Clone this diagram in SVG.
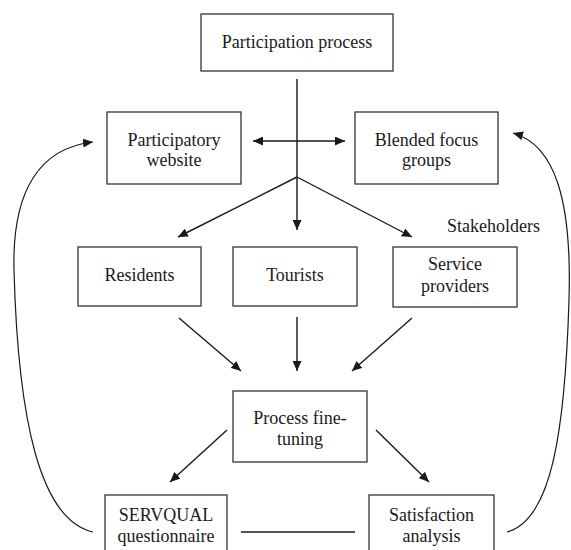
<svg xmlns="http://www.w3.org/2000/svg" width="571" height="550" viewBox="0 0 571 550">
  <defs>
    <marker id="ah" viewBox="0 0 10 9" refX="10" refY="4.5" markerWidth="10" markerHeight="9" markerUnits="userSpaceOnUse" orient="auto-start-reverse">
      <path d="M0,0 L10,4.5 L0,9 z" fill="#1a1a1a"/>
    </marker>
  </defs>
  <style>
    .box { fill: #ffffff; stroke: #333333; stroke-width: 1.3; }
    text { font-family: "Liberation Serif", "Times New Roman", Tinos, "DejaVu Serif", serif; font-size: 18px; fill: #1a1a1a; }
    .lbl { text-anchor: middle; }
    .ln { fill: none; stroke: #1a1a1a; stroke-width: 1.4; }
    .arr { fill: none; stroke: #1a1a1a; stroke-width: 1.4; marker-end: url(#ah); }
    .curve { fill: none; stroke: #1a1a1a; stroke-width: 1.2; }
  </style>
  <rect width="571" height="550" fill="#ffffff"/>

  <g id="connectors">
    <line class="arr" x1="297" y1="79" x2="297" y2="230"/>
    <line class="arr" x1="253" y1="141" x2="345" y2="141" marker-start="url(#ah)"/>
    <line class="arr" x1="297" y1="177" x2="178" y2="237"/>
    <line class="arr" x1="297" y1="177" x2="412" y2="237"/>
    <line class="arr" x1="179" y1="318" x2="241" y2="371"/>
    <line class="arr" x1="297" y1="317" x2="297" y2="371"/>
    <line class="arr" x1="412" y1="318" x2="352" y2="371"/>
    <line class="arr" x1="227" y1="430" x2="170" y2="482"/>
    <line class="arr" x1="376" y1="430" x2="429" y2="482"/>
    <line class="ln" x1="241" y1="532" x2="355" y2="532"/>
    <path class="curve" d="M93,532 C40,520 18,420 14,270 C12,190 40,148 93,142" marker-end="url(#ah)"/>
    <path class="curve" d="M507,532 C552,520 565,430 569,300 C572,200 555,145 513,133" marker-end="url(#ah)"/>
  </g>

  <g id="participation-process">
    <rect class="box" x="201" y="14" width="192" height="57"/>
    <text class="lbl" x="297" y="48" font-family="Liberation Serif, serif">Participation process</text>
  </g>
  <g id="participatory-website">
    <rect class="box" x="107" y="112" width="134" height="72"/>
    <text class="lbl" x="174" y="146" font-family="Liberation Serif, serif">Participatory</text>
    <text class="lbl" x="174" y="166" font-family="Liberation Serif, serif">website</text>
  </g>
  <g id="blended-focus-groups">
    <rect class="box" x="355" y="112" width="143" height="72"/>
    <text class="lbl" x="426.5" y="146" font-family="Liberation Serif, serif">Blended focus</text>
    <text class="lbl" x="426.5" y="166" font-family="Liberation Serif, serif">groups</text>
  </g>
  <g id="stakeholders-label">
    <text x="447" y="232" font-family="Liberation Serif, serif">Stakeholders</text>
  </g>
  <g id="residents">
    <rect class="box" x="78" y="247" width="123" height="59"/>
    <text class="lbl" x="139.5" y="281" font-family="Liberation Serif, serif">Residents</text>
  </g>
  <g id="tourists">
    <rect class="box" x="233" y="247" width="124" height="59"/>
    <text class="lbl" x="295" y="281" font-family="Liberation Serif, serif">Tourists</text>
  </g>
  <g id="service-providers">
    <rect class="box" x="393" y="247" width="124" height="60"/>
    <text class="lbl" x="455" y="270" font-family="Liberation Serif, serif">Service</text>
    <text class="lbl" x="455" y="292" font-family="Liberation Serif, serif">providers</text>
  </g>
  <g id="process-fine-tuning">
    <rect class="box" x="233" y="391" width="134" height="71"/>
    <text class="lbl" x="300" y="424" font-family="Liberation Serif, serif">Process fine-</text>
    <text class="lbl" x="300" y="445" font-family="Liberation Serif, serif">tuning</text>
  </g>
  <g id="servqual-questionnaire">
    <rect class="box" x="105" y="495" width="122" height="62"/>
    <text class="lbl" x="166" y="521" font-family="Liberation Serif, serif">SERVQUAL</text>
    <text class="lbl" x="166" y="542" font-family="Liberation Serif, serif">questionnaire</text>
  </g>
  <g id="satisfaction-analysis">
    <rect class="box" x="369" y="495" width="125" height="62"/>
    <text class="lbl" x="431.5" y="521" font-family="Liberation Serif, serif">Satisfaction</text>
    <text class="lbl" x="431.5" y="542" font-family="Liberation Serif, serif">analysis</text>
  </g>
</svg>
